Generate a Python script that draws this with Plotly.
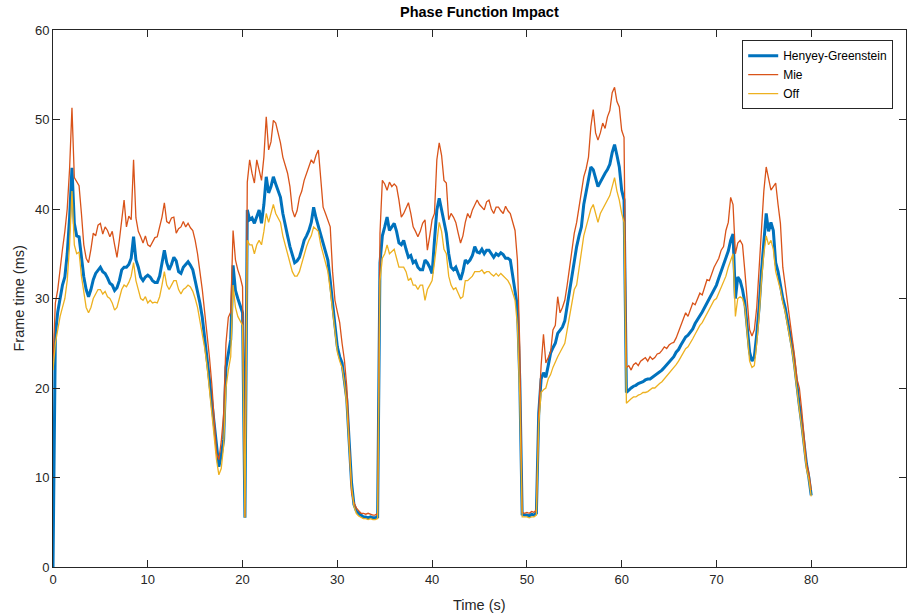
import numpy as np
import plotly.graph_objects as go

# sample time step (s)
dt = 0.25

hg = [
0.0, 26.0, 28.5, 30.2,   # 0
31.5, 32.4, 35.0, 39.0,  # 1
44.6, 38.4, 37.0, 36.9,  # 2
34.5, 32.4, 31.0, 30.2,  # 3
31.0, 32.1, 32.8, 33.2,  # 4
33.5, 33.0, 32.8, 32.3,  # 5
31.7, 31.5, 30.9, 31.2,  # 6
32.0, 33.2, 33.5, 33.5,  # 7
33.8, 34.5, 36.9, 34.3,  # 8
33.5, 32.4, 32.0, 32.4,  # 9
32.6, 32.4, 32.0, 31.8,  # 10
31.8, 32.5, 34.0, 35.4,  # 11
34.0, 33.2, 33.8, 34.6,  # 12
34.2, 33.0, 32.8, 33.5,  # 13
33.8, 34.1, 33.7, 33.2,  # 14
32.0, 30.9, 29.5, 27.9,  # 15
25.8, 23.5, 21.0, 18.5,  # 16
16.1, 13.0, 11.2, 12.5,  # 17
14.2, 22.3, 24.0, 25.4,  # 18
33.7, 30.9, 30.0, 29.1,  # 19
28.4, 5.5, 39.9, 38.8,   # 20
39.0, 38.4, 39.2, 39.9,  # 21
38.4, 40.5, 43.6, 41.8,  # 22
42.5, 43.6, 42.8, 42.0,  # 23
41.3, 39.5, 38.4, 37.0,  # 24
35.8, 35.0, 34.0, 34.2,  # 25
34.6, 35.5, 36.5, 37.0,  # 26
37.6, 38.5, 40.2, 39.0,  # 27
38.0, 37.0, 36.2, 35.0,  # 28
34.3, 32.0, 29.1, 27.0,  # 29
24.6, 23.5, 22.8, 21.0,  # 30
18.7, 14.0, 9.4, 7.0,    # 31
6.3, 6.0, 5.8, 5.6,      # 32
5.6, 5.5, 5.6, 5.5,      # 33
5.5, 5.6, 34.0, 37.0,    # 34
38.0, 39.1, 37.6, 38.0,  # 35
38.4, 37.5, 36.2, 36.0,  # 36
36.5, 35.5, 34.6, 34.8,  # 37
34.0, 34.2, 33.5, 33.2,  # 38
33.2, 34.3, 34.0, 33.5,  # 39
32.8, 36.5, 39.9, 41.2,  # 40
40.0, 38.8, 37.3, 35.0,  # 41
33.5, 33.2, 33.5, 32.8,  # 42
32.1, 33.0, 34.3, 34.0,  # 43
34.3, 34.8, 35.8, 35.2,  # 44
35.1, 35.5, 35.0, 35.4,  # 45
35.4, 35.0, 34.6, 35.0,  # 46
34.8, 35.1, 34.9, 34.5,  # 47
34.5, 34.3, 32.4, 31.0,  # 48
29.1, 20.9, 5.9, 5.8,    # 49
5.8, 5.7, 5.9, 5.8,      # 50
6.0, 17.2, 21.0, 21.7,   # 51
21.2, 22.5, 23.9, 24.5,  # 52
25.0, 26.1, 26.5, 26.8,  # 53
27.5, 29.1, 31.0, 32.8,  # 54
34.0, 35.8, 37.0, 38.0,  # 55
40.5, 42.0, 43.5, 44.7,  # 56
44.4, 43.5, 42.5, 43.0,  # 57
43.6, 44.0, 44.4, 45.0,  # 58
46.3, 47.2, 46.0, 44.7,  # 59
42.1, 41.0, 19.5, 19.8,  # 60
20.0, 20.2, 20.3, 20.5,  # 61
20.6, 20.7, 20.9, 21.0,  # 62
21.0, 21.2, 21.3, 21.5,  # 63
21.8, 22.0, 22.3, 22.6,  # 64
22.9, 23.2, 23.5, 24.0,  # 65
24.3, 24.8, 25.2, 25.7,  # 66
25.9, 26.3, 26.6, 27.2,  # 67
27.6, 28.0, 28.5, 29.0,  # 68
29.5, 29.9, 30.5, 31.0,  # 69
31.5, 32.3, 33.0, 33.8,  # 70
34.5, 35.3, 36.5, 37.2,  # 71
30.0, 32.4, 32.0, 31.0,  # 72
29.5, 26.5, 24.0, 23.0,  # 73
23.5, 26.0, 29.0, 33.0,  # 74
36.5, 39.5, 37.5, 38.5,  # 75
37.6, 34.0, 33.0, 31.5,  # 76
30.0, 29.0, 27.5, 26.0,  # 77
24.5, 22.5, 20.0, 18.0,  # 78
16.0, 13.5, 11.5, 10.0,  # 79
8.0]

mie = [
23.0, 29.5, 31.0, 33.5,  # 0
35.5, 37.5, 40.0, 44.5,  # 1
51.3, 43.5, 43.0, 42.6,  # 2
39.5, 36.0, 34.5, 34.0,  # 3
35.5, 37.3, 37.0, 38.2,  # 4
38.4, 37.2, 38.0, 37.6,  # 5
36.9, 37.5, 36.0, 34.6,  # 6
36.5, 39.1, 41.0, 38.0,  # 7
39.2, 38.8, 45.5, 39.0,  # 8
37.5, 36.9, 36.2, 37.0,  # 9
36.0, 35.8, 36.3, 36.8,  # 10
36.9, 38.0, 39.1, 40.7,  # 11
38.6, 38.4, 39.0, 39.1,  # 12
37.3, 37.8, 38.0, 38.6,  # 13
38.0, 38.4, 37.9, 37.6,  # 14
36.5, 35.0, 33.2, 31.0,  # 15
28.5, 26.2, 23.5, 20.5,  # 16
16.5, 12.7, 12.0, 14.0,  # 17
17.0, 25.0, 27.9, 28.5,  # 18
37.6, 34.3, 33.2, 32.4,  # 19
31.3, 5.6, 43.0, 45.5,   # 20
44.0, 42.9, 45.5, 44.5,  # 21
43.2, 45.8, 50.3, 46.6,  # 22
47.5, 49.9, 49.6, 48.5,  # 23
47.4, 45.8, 45.0, 44.0,  # 24
42.5, 39.9, 39.1, 39.8,  # 25
41.3, 42.0, 43.2, 44.0,  # 26
44.7, 45.5, 45.1, 46.0,  # 27
46.6, 43.6, 40.2, 39.5,  # 28
38.8, 38.0, 33.0, 29.8,  # 29
28.5, 27.3, 25.0, 23.1,  # 30
20.1, 15.0, 8.3, 7.2,    # 31
6.6, 6.3, 6.0, 6.0,      # 32
5.9, 6.0, 5.9, 5.8,      # 33
5.8, 6.0, 37.3, 43.2,    # 34
42.8, 42.1, 43.0, 42.5,  # 35
42.8, 42.5, 41.0, 39.1,  # 36
39.5, 40.2, 40.7, 39.5,  # 37
38.0, 37.5, 36.9, 37.5,  # 38
38.4, 38.8, 35.4, 37.0,  # 39
38.8, 39.5, 45.5, 47.4,  # 40
46.0, 43.2, 42.9, 38.8,  # 41
39.5, 39.1, 38.5, 37.3,  # 42
36.2, 37.0, 38.5, 39.5,  # 43
39.0, 39.9, 40.5, 41.0,  # 44
40.5, 40.2, 39.9, 40.8,  # 45
41.0, 40.0, 39.5, 40.2,  # 46
40.2, 39.8, 39.5, 40.3,  # 47
39.8, 39.5, 38.5, 37.6,  # 48
34.3, 24.6, 6.1, 6.0,    # 49
6.1, 6.0, 6.2, 6.1,      # 50
6.4, 17.2, 22.5, 26.0,   # 51
22.8, 23.5, 24.0, 26.5,  # 52
27.0, 30.2, 28.4, 29.0,  # 53
29.8, 31.5, 33.5, 35.5,  # 54
37.3, 38.5, 40.2, 42.0,  # 55
43.6, 44.5, 45.8, 49.2,  # 56
51.1, 48.5, 47.7, 48.5,  # 57
49.6, 49.0, 50.3, 51.0,  # 58
53.0, 53.6, 52.0, 51.4,  # 59
48.8, 48.0, 22.3, 22.5,  # 60
22.0, 22.6, 22.8, 22.5,  # 61
23.0, 23.2, 23.4, 23.0,  # 62
23.5, 23.2, 23.4, 23.8,  # 63
23.9, 24.2, 24.6, 24.4,  # 64
24.8, 25.0, 25.1, 25.6,  # 65
26.3, 26.8, 27.5, 28.4,  # 66
28.0, 28.8, 29.5, 29.3,  # 67
30.0, 30.6, 30.4, 31.2,  # 68
32.1, 32.0, 32.8, 33.5,  # 69
34.0, 34.5, 35.4, 35.8,  # 70
37.6, 38.5, 41.3, 40.5,  # 71
35.0, 36.2, 36.5, 36.0,  # 72
33.0, 29.5, 26.5, 25.8,  # 73
26.5, 29.0, 33.0, 38.0,  # 74
42.0, 44.7, 43.5, 42.1,  # 75
42.5, 42.9, 40.5, 38.4,  # 76
33.5, 31.5, 29.8, 28.0,  # 77
25.7, 23.5, 21.0, 20.0,  # 78
17.5, 14.5, 11.6, 10.5,  # 79
8.6]

off = [
22.0, 25.0, 26.5, 28.0,  # 0
29.0, 30.0, 32.0, 36.0,  # 1
42.0, 36.0, 35.0, 35.2,  # 2
32.5, 30.5, 29.0, 28.4,  # 3
29.0, 30.0, 30.5, 31.0,  # 4
31.0, 30.5, 30.8, 30.2,  # 5
30.0, 29.5, 28.7, 29.0,  # 6
30.0, 31.0, 31.5, 31.3,  # 7
31.8, 32.5, 34.0, 32.0,  # 8
31.0, 30.0, 29.8, 30.2,  # 9
29.5, 29.8, 29.5, 29.6,  # 10
29.5, 30.2, 31.5, 33.0,  # 11
31.5, 31.0, 31.5, 32.0,  # 12
32.0, 31.0, 30.5, 31.0,  # 13
31.2, 31.5, 31.3, 30.8,  # 14
30.0, 29.0, 27.5, 26.0,  # 15
24.5, 22.5, 20.0, 17.5,  # 16
15.0, 12.0, 10.3, 11.0,  # 17
13.5, 20.0, 22.0, 23.5,  # 18
31.5, 29.0, 28.0, 27.5,  # 19
27.0, 5.5, 36.5, 36.0,   # 20
36.0, 35.0, 36.0, 36.5,  # 21
36.0, 37.5, 39.5, 38.5,  # 22
39.5, 40.5, 39.5, 39.0,  # 23
38.5, 37.0, 36.0, 35.0,  # 24
34.0, 33.0, 32.5, 32.5,  # 25
33.0, 34.0, 35.0, 35.8,  # 26
36.5, 37.0, 38.0, 37.8,  # 27
37.5, 36.0, 35.0, 34.0,  # 28
33.0, 31.0, 28.5, 26.5,  # 29
24.0, 23.0, 22.3, 20.5,  # 30
18.0, 13.5, 9.0, 6.8,    # 31
6.0, 5.7, 5.5, 5.4,      # 32
5.4, 5.3, 5.4, 5.3,      # 33
5.3, 5.4, 32.0, 34.5,    # 34
35.0, 36.0, 35.0, 35.3,  # 35
35.5, 34.5, 33.5, 33.5,  # 36
33.5, 33.0, 32.0, 32.3,  # 37
31.5, 31.5, 31.0, 31.5,  # 38
31.5, 29.8, 31.0, 31.5,  # 39
32.0, 34.0, 36.0, 38.5,  # 40
37.5, 35.5, 35.0, 32.5,  # 41
31.5, 31.0, 31.2, 30.5,  # 42
30.0, 30.2, 32.0, 32.0,  # 43
32.3, 32.5, 33.0, 33.0,  # 44
33.0, 33.2, 32.8, 33.0,  # 45
33.0, 32.7, 32.5, 32.8,  # 46
32.5, 32.8, 32.5, 32.3,  # 47
32.0, 31.5, 30.5, 29.8,  # 48
27.0, 19.0, 5.6, 5.6,    # 49
5.6, 5.5, 5.6, 5.6,      # 50
5.8, 16.0, 19.5, 19.8,   # 51
20.0, 21.0, 21.5, 22.3,  # 52
23.0, 23.5, 24.0, 24.5,  # 53
25.0, 26.5, 28.0, 29.5,  # 54
31.0, 31.5, 33.5, 35.0,  # 55
37.0, 38.0, 39.0, 40.0,  # 56
40.5, 39.5, 38.5, 39.5,  # 57
40.0, 40.5, 41.0, 41.5,  # 58
42.5, 43.5, 42.0, 41.0,  # 59
39.5, 38.5, 18.3, 18.6,  # 60
18.8, 19.0, 19.0, 19.2,  # 61
19.3, 19.5, 19.5, 19.6,  # 62
19.8, 20.0, 20.0, 20.3,  # 63
20.5, 20.7, 21.0, 21.3,  # 64
21.6, 22.0, 22.3, 22.6,  # 65
23.0, 23.5, 24.0, 24.4,  # 66
24.6, 25.0, 25.5, 26.0,  # 67
26.5, 27.0, 27.3, 27.8,  # 68
28.3, 28.8, 29.3, 29.8,  # 69
30.0, 30.6, 31.3, 32.0,  # 70
32.5, 33.5, 34.3, 35.0,  # 71
28.0, 30.0, 30.2, 30.0,  # 72
29.0, 25.5, 23.0, 22.3,  # 73
22.5, 25.0, 28.0, 32.0,  # 74
35.0, 37.0, 36.0, 36.5,  # 75
35.5, 33.0, 32.0, 31.0,  # 76
29.5, 28.5, 27.0, 25.5,  # 77
24.0, 22.0, 19.5, 17.5,  # 78
15.5, 13.0, 11.0, 9.8,   # 79
7.9]

x_ticks = [0, 10, 20, 30, 40, 50, 60, 70, 80, 90]
y_ticks = [0, 10, 20, 30, 40, 50, 60]

t = np.arange(len(hg)) * dt

FONT = "Liberation Sans, Arial, sans-serif"
AX = "#262626"

fig = go.Figure()
fig.add_trace(go.Scatter(x=t, y=hg, mode="lines", name="Henyey-Greenstein",
                         line=dict(color="#0072BD", width=3)))
fig.add_trace(go.Scatter(x=t[:len(mie)], y=mie, mode="lines", name="Mie",
                         line=dict(color="#D95319", width=1.3)))
fig.add_trace(go.Scatter(x=t[:len(off)], y=off, mode="lines", name="Off",
                         line=dict(color="#EDB120", width=1.3)))

axis_common = dict(showgrid=False, zeroline=False, showline=True, linecolor=AX,
                   linewidth=1, mirror="ticks", ticks="inside", ticklen=7,
                   tickcolor=AX, tickwidth=1,
                   tickfont=dict(family=FONT, size=13, color=AX))

fig.update_layout(
    width=912, height=616,
    margin=dict(l=53, r=6, t=30, b=49),
    paper_bgcolor="white", plot_bgcolor="white",
    font=dict(family=FONT, color=AX),
    xaxis=dict(range=[0, 90], tickvals=x_ticks, **axis_common),
    yaxis=dict(range=[0, 60], tickvals=y_ticks, **axis_common),
    showlegend=True,
    legend=dict(x=0.985, y=0.981, xanchor="right", yanchor="top",
                bgcolor="white", bordercolor=AX, borderwidth=1,
                font=dict(family=FONT, size=12, color="#000000"),
                itemwidth=30, tracegroupgap=0),
    annotations=[
        dict(text="<b>Phase Function Impact</b>", x=0.5, y=1, xref="paper", yref="paper",
             yshift=18, showarrow=False, xanchor="center", yanchor="middle",
             font=dict(family=FONT, size=14.5, color="#000000")),
        dict(text="Time (s)", x=0.5, y=0, xref="paper", yref="paper",
             yshift=-38, showarrow=False, xanchor="center", yanchor="middle",
             font=dict(family=FONT, size=14.5, color=AX)),
        dict(text="Frame time (ms)", x=0, y=0.5, xref="paper", yref="paper",
             xshift=-35, showarrow=False, xanchor="center", yanchor="middle",
             textangle=-90, font=dict(family=FONT, size=14.5, color=AX)),
    ],
)

fig.write_html("out.html")
